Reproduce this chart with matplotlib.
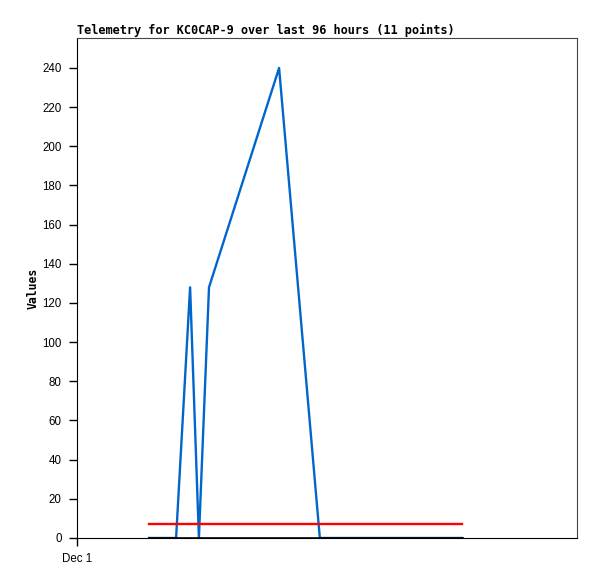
import matplotlib
matplotlib.use('Agg')
import matplotlib.pyplot as plt

# Telemetry samples, hours since Dec 1 00:00
hours = [22.1, 30.4, 34.7, 37.4, 40.5, 62.0, 74.5, 86.0, 97.0, 108.0, 118.1]
values = [0, 0, 128, 0, 128, 240, 0, 0, 0, 0, 0]
level = [7] * len(hours)
baseline = [0] * len(hours)

x_ticks = [0]
x_labels = ['Dec 1']
y_ticks = list(range(0, 241, 20))

fig = plt.figure(figsize=(5.97, 5.79), dpi=100)
ax = fig.add_axes([77 / 597, 41 / 579, 500 / 597, 500 / 579])

ax.plot(hours, values, color='#0066cc', linewidth=1.7)
ax.plot(hours, level, color='#ff0000', linewidth=1.7)
ax.plot(hours, baseline, color='#000000', linewidth=1.9)

ax.set_xlim(0, 153.4)
ax.set_ylim(0, 255.3)
ax.set_xticks(x_ticks)
ax.set_xticklabels(x_labels)
ax.set_yticks(y_ticks)

for lbl in ax.get_xticklabels() + ax.get_yticklabels():
    lbl.set_family('Liberation Sans')
    lbl.set_fontsize(8.3)

ax.tick_params(direction='out', length=6, width=1, pad=5, colors='black')
for side in ['top', 'right']:
    ax.spines[side].set_color('#444444')
for side in ['left', 'bottom']:
    ax.spines[side].set_color('black')

ax.set_title('Telemetry for KC0CAP-9 over last 96 hours (11 points)',
             family='DejaVu Sans Mono', fontweight='bold', fontsize=8.6,
             loc='left', pad=3)
ax.set_ylabel('Values', family='DejaVu Sans Mono', fontweight='bold',
              fontsize=8.3)
ax.yaxis.set_label_coords(-0.075, 0.5)

plt.savefig('out.png', dpi=100)
plt.close()
